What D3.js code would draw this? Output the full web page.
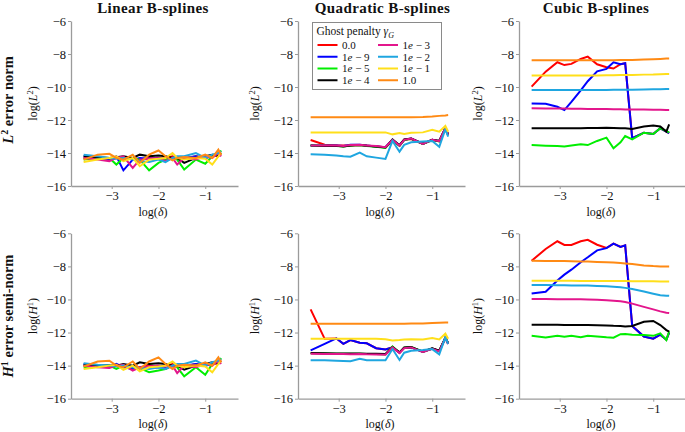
<!DOCTYPE html>
<html>
<head>
<meta charset="utf-8">
<script src="https://cdn.jsdelivr.net/npm/d3@7"></script>
<style>
	body { margin: 0; background: #fff; }
	svg { display: block; }
	text { font-family: 'Liberation Serif', 'DejaVu Serif', serif; fill: #111; }
</style>
</head>
<body>
<svg id="chart"></svg>
<script>
// log(delta) sample points shared by every panel
const xValues = [-3.6, -3.3, -3.05, -2.9, -2.75, -2.55, -2.4, -2.2, -2.0, -1.85, -1.7, -1.6, -1.45, -1.2, -1.0, -0.85, -0.72, -0.66];

// ghost penalty values, in legend / drawing order
const penaltyLabels = ['0.0', '1e-9', '1e-5', '1e-4', '1e-3', '1e-2', '1e-1', '1.0'];
const penaltyColors = ['#ff0000', '#0000ff', '#00ee00', '#000000', '#e3168c', '#1fa6e0', '#ffdf1a', '#ff8a14'];

const columnTitles = ['Linear B-splines', 'Quadratic B-splines', 'Cubic B-splines'];
const rowTitles = [['L', '2', ' error norm'], ['H', '1', ' error semi-norm']];
const yLabels = [['L', '2'], ['H', '1']];
const xTicks = [-3, -2, -1];
const yTicks = [-16, -14, -12, -10, -8, -6];

// log(L2) error, one row per penalty
const linearL2 = [
	[-14.3, -14.35, -14.4, -14.3, -14.25, -14.35, -14.4, -14.3, -14.35, -14.3, -14.2, -14.3, -14.35, -14.2, -14.3, -14.15, -14.2, -14.0],
	[-14.2, -14.3, -14.4, -14.2, -15.05, -14.4, -14.3, -14.35, -14.3, -14.4, -14.3, -14.25, -14.3, -14.2, -14.3, -14.2, -14.1, -14.0],
	[-14.4, -14.3, -14.3, -14.7, -14.3, -14.3, -14.4, -15.05, -14.6, -14.4, -14.3, -14.4, -15.0, -14.4, -14.65, -14.2, -14.1, -13.85],
	[-14.2, -14.25, -14.3, -14.25, -14.2, -14.3, -14.1, -14.2, -14.15, -14.2, -14.3, -14.3, -14.6, -14.3, -14.2, -14.1, -14.15, -14.0],
	[-14.3, -14.4, -14.5, -14.3, -14.2, -14.9, -14.4, -14.35, -14.3, -14.5, -14.3, -14.7, -14.3, -14.4, -14.2, -14.3, -14.0, -14.2],
	[-14.1, -14.2, -14.3, -14.35, -14.3, -14.4, -14.5, -14.55, -14.4, -14.55, -14.3, -14.2, -14.2, -14.0, -14.3, -14.1, -14.0, -13.9],
	[-14.55, -14.4, -14.3, -14.2, -14.5, -14.3, -14.8, -14.4, -14.35, -14.3, -14.0, -14.3, -14.4, -14.3, -14.35, -14.7, -14.2, -14.0],
	[-14.4, -14.1, -14.05, -14.3, -14.4, -14.1, -14.6, -14.1, -13.85, -14.2, -14.45, -14.3, -14.25, -14.3, -14.1, -14.3, -13.8, -14.1]
];
const quadraticL2 = [
	[-13.21, -13.5, -13.55, -13.55, -13.55, -13.52, -13.55, -13.6, -13.65, -13.22, -13.55, -13.2, -13.15, -13.45, -13.2, -13.3, -12.5, -12.9],
	[-13.55, -13.55, -13.55, -13.58, -13.5, -13.5, -13.55, -13.6, -13.65, -13.2, -13.55, -13.2, -13.12, -13.45, -13.2, -13.28, -12.5, -12.9],
	[-13.55, -13.56, -13.57, -13.6, -13.55, -13.52, -13.57, -13.62, -13.7, -13.22, -13.56, -13.22, -13.14, -13.45, -13.22, -13.3, -12.52, -12.92],
	[-13.55, -13.57, -13.56, -13.6, -13.54, -13.52, -13.56, -13.6, -13.67, -13.18, -13.53, -13.18, -13.12, -13.43, -13.2, -13.26, -12.5, -12.88],
	[-13.55, -13.55, -13.55, -13.58, -13.52, -13.5, -13.55, -13.58, -13.65, -13.2, -13.55, -13.2, -13.12, -13.45, -13.2, -13.28, -12.5, -12.9],
	[-14.08, -14.1, -14.15, -14.2, -14.22, -13.98, -14.2, -14.28, -14.36, -13.27, -13.92, -13.51, -13.35, -13.31, -13.27, -13.62, -12.55, -13.01],
	[-12.75, -12.75, -12.75, -12.75, -12.75, -12.75, -12.75, -12.75, -12.75, -12.87, -12.79, -12.85, -12.77, -12.75, -12.6, -12.71, -12.36, -12.71],
	[-11.84, -11.84, -11.84, -11.84, -11.84, -11.84, -11.84, -11.84, -11.84, -11.84, -11.84, -11.84, -11.84, -11.82, -11.79, -11.75, -11.72, -11.7]
];
const cubicL2 = [
	[-9.98, -9.07, -8.5, -8.67, -8.6, -8.3, -8.16, -8.62, -8.8, -8.88, -8.62, -8.56, -13.1, -12.77, -12.85, -12.5, -12.7, -12.8],
	[-11.0, -11.02, -11.2, -11.4, -10.9, -10.2, -9.65, -9.05, -8.9, -8.5, -8.62, -8.56, -13.1, -12.77, -12.85, -12.5, -12.7, -12.8],
	[-13.52, -13.56, -13.58, -13.61, -13.55, -13.47, -13.52, -13.27, -13.07, -13.71, -13.35, -12.97, -13.17, -12.77, -12.85, -12.5, -12.67, -12.75],
	[-12.5, -12.5, -12.5, -12.5, -12.5, -12.5, -12.49, -12.48, -12.47, -12.48, -12.5, -12.5, -12.55, -12.39, -12.33, -12.39, -12.7, -12.26],
	[-11.29, -11.3, -11.3, -11.31, -11.32, -11.32, -11.33, -11.33, -11.34, -11.35, -11.35, -11.36, -11.36, -11.37, -11.38, -11.38, -11.39, -11.39],
	[-10.18, -10.18, -10.18, -10.18, -10.18, -10.18, -10.18, -10.18, -10.18, -10.17, -10.17, -10.17, -10.16, -10.15, -10.14, -10.13, -10.12, -10.12],
	[-9.3, -9.3, -9.3, -9.3, -9.3, -9.3, -9.3, -9.3, -9.29, -9.29, -9.28, -9.28, -9.27, -9.25, -9.24, -9.22, -9.21, -9.21],
	[-8.38, -8.38, -8.38, -8.38, -8.38, -8.38, -8.38, -8.38, -8.38, -8.38, -8.37, -8.37, -8.36, -8.34, -8.32, -8.3, -8.28, -8.28]
];

// log(H1) error, one row per penalty
const linearH1 = [
	[-14.0, -14.05, -14.1, -14.0, -13.95, -14.05, -14.1, -14.0, -14.05, -14.0, -13.9, -14.0, -14.05, -13.9, -14.0, -13.85, -13.9, -13.7],
	[-13.9, -14.0, -14.1, -13.9, -14.1, -14.2, -14.1, -14.15, -14.1, -14.15, -14.0, -13.95, -14.0, -13.9, -14.0, -13.9, -13.8, -13.7],
	[-14.1, -14.0, -14.0, -14.2, -14.0, -14.1, -14.15, -14.4, -14.3, -14.2, -14.0, -14.1, -14.65, -14.1, -14.55, -13.9, -13.8, -13.55],
	[-13.95, -14.0, -14.0, -14.0, -13.9, -14.0, -13.8, -13.9, -13.85, -13.9, -14.0, -14.0, -14.25, -14.0, -13.9, -13.8, -13.85, -13.7],
	[-14.0, -14.1, -14.15, -14.0, -13.95, -14.3, -14.1, -14.05, -14.0, -14.2, -14.0, -14.45, -14.0, -14.1, -13.9, -14.0, -13.7, -13.9],
	[-13.85, -13.95, -14.0, -14.05, -14.0, -14.1, -14.15, -14.2, -14.1, -14.2, -14.0, -13.9, -13.9, -13.7, -14.0, -13.8, -13.7, -13.6],
	[-14.2, -14.1, -14.0, -13.95, -14.25, -14.0, -14.35, -14.1, -14.05, -14.0, -13.75, -14.0, -14.1, -14.0, -14.05, -14.4, -13.9, -13.7],
	[-14.05, -13.75, -13.7, -14.0, -14.1, -13.75, -14.2, -13.75, -13.5, -13.9, -14.2, -14.0, -13.95, -14.0, -13.8, -14.0, -13.5, -13.8]
];
const quadraticH1 = [
	[-10.6, -12.38, -12.36, -12.68, -12.46, -12.62, -12.65, -12.95, -13.02, -12.9, -13.22, -12.93, -12.9, -13.17, -12.97, -13.12, -12.32, -12.68],
	[-13.08, -12.68, -12.35, -12.68, -12.46, -12.62, -12.65, -12.95, -13.02, -12.9, -13.22, -12.93, -12.9, -13.17, -12.97, -13.12, -12.32, -12.68],
	[-13.25, -13.26, -13.28, -13.28, -13.28, -13.28, -13.3, -13.3, -13.32, -12.84, -13.22, -12.92, -12.88, -13.16, -12.97, -13.12, -12.32, -12.67],
	[-13.24, -13.25, -13.27, -13.27, -13.27, -13.27, -13.28, -13.28, -13.3, -12.88, -13.2, -12.9, -12.88, -13.15, -12.96, -13.1, -12.32, -12.65],
	[-13.28, -13.29, -13.3, -13.3, -13.31, -13.3, -13.32, -13.33, -13.34, -12.9, -13.24, -12.94, -12.9, -13.18, -12.98, -13.14, -12.33, -12.69],
	[-13.68, -13.68, -13.7, -13.72, -13.74, -13.58, -13.68, -13.68, -13.68, -13.0, -13.66, -13.22, -13.1, -13.06, -13.0, -13.32, -12.29, -12.69],
	[-12.38, -12.38, -12.38, -12.38, -12.38, -12.38, -12.38, -12.38, -12.4, -12.48, -12.45, -12.42, -12.4, -12.42, -12.33, -12.42, -12.07, -12.38],
	[-11.47, -11.47, -11.47, -11.47, -11.47, -11.47, -11.47, -11.47, -11.47, -11.47, -11.47, -11.47, -11.46, -11.45, -11.43, -11.41, -11.39, -11.39]
];
const cubicH1 = [
	[-7.66, -6.95, -6.48, -6.7, -6.7, -6.48, -6.39, -6.69, -6.89, -6.63, -6.83, -6.73, -11.6, -12.24, -12.37, -12.13, -12.43, -12.0],
	[-9.64, -9.53, -8.85, -8.5, -8.2, -7.75, -7.45, -7.03, -6.9, -6.63, -6.83, -6.73, -11.6, -12.24, -12.37, -12.13, -12.43, -12.0],
	[-12.2, -12.3, -12.19, -12.25, -12.19, -12.29, -12.19, -12.24, -12.29, -12.31, -12.1, -12.09, -12.13, -12.15, -12.2, -12.05, -12.45, -11.92],
	[-11.53, -11.53, -11.53, -11.54, -11.54, -11.55, -11.55, -11.56, -11.57, -11.59, -11.6, -11.63, -11.6, -11.35, -11.3, -11.55, -11.85, -11.95],
	[-9.97, -9.97, -9.98, -9.98, -9.99, -9.99, -10.0, -10.02, -10.05, -10.08, -10.11, -10.15, -10.25, -10.45, -10.6, -10.72, -10.8, -10.82],
	[-9.13, -9.13, -9.14, -9.14, -9.15, -9.15, -9.16, -9.18, -9.2, -9.23, -9.26, -9.3, -9.37, -9.52, -9.65, -9.75, -9.77, -9.78],
	[-8.87, -8.87, -8.87, -8.87, -8.87, -8.88, -8.88, -8.88, -8.88, -8.89, -8.89, -8.89, -8.9, -8.9, -8.9, -8.91, -8.91, -8.91],
	[-7.66, -7.67, -7.68, -7.68, -7.69, -7.7, -7.71, -7.73, -7.75, -7.77, -7.8, -7.82, -7.86, -7.94, -7.98, -8.0, -8.0, -8.0]
];

const panelData = [[linearL2, quadraticL2, cubicL2], [linearH1, quadraticH1, cubicH1]];

const width = 685;
const height = 432;
const svg = d3.select('#chart').attr('width', width).attr('height', height);

const axisGrey = '#9b9b9b';
const panelLefts = [71, 298, 519];
const panelWidth = 167;
const rowRanges = [[186, 21], [398.7, 233.3]];
const rowLabelY = [100, 316];
const yLabelX = [37, 259, 482];
const titleX = [153, 382.5, 596];

columnTitles.forEach((t, c) => {
	svg.append('text')
		.attr('x', titleX[c]).attr('y', 12.5)
		.attr('text-anchor', 'middle')
		.style('font-size', '15px').style('font-weight', 'bold')
		.style('letter-spacing', '0.4px')
		.text(t);
});

rowRanges.forEach((range, r) => {
	const rowLabel = svg.append('text')
		.attr('transform', `translate(13,${rowLabelY[r]}) rotate(-90)`)
		.attr('text-anchor', 'middle')
		.style('font-size', '14.5px').style('font-weight', 'bold');
	rowLabel.append('tspan').style('font-style', 'italic').text(rowTitles[r][0]);
	rowLabel.append('tspan').attr('dy', -5).style('font-size', '10px').text(rowTitles[r][1]);
	rowLabel.append('tspan').attr('dy', 5).text(rowTitles[r][2]);
});

const line = (x, y) => d3.line()
	.x((d, i) => x(xValues[i]))
	.y(d => y(d));

panelData.forEach((rowData, r) => {
	rowData.forEach((series, c) => {
		const left = panelLefts[c];
		const x = d3.scaleLinear().domain([-3.87, -0.3]).range([left, left + panelWidth]);
		const y = d3.scaleLinear().domain([-16, -6]).range(rowRanges[r]);
		const g = svg.append('g');

		const yAxis = g.append('g')
			.attr('transform', `translate(${left},0)`)
			.call(d3.axisLeft(y).tickValues(yTicks).tickFormat(d3.format('d'))
				.tickSize(3).tickSizeOuter(0).tickPadding(2));
		const xAxis = g.append('g')
			.attr('transform', `translate(0,${rowRanges[r][0]})`)
			.call(d3.axisBottom(x).tickValues(xTicks).tickFormat(d3.format('d'))
				.tickSize(3).tickSizeOuter(0).tickPadding(2));
		[yAxis, xAxis].forEach(a => {
			a.select('.domain').attr('stroke', axisGrey).attr('stroke-width', 1.3);
			a.selectAll('.tick line').attr('stroke', axisGrey).attr('stroke-width', 1);
			a.selectAll('.tick text')
				.style('font-family', "'Liberation Serif', serif")
				.style('font-size', '12.5px').attr('fill', '#111');
		});

		// axis titles
		const yl = g.append('text')
			.attr('transform', `translate(${yLabelX[c]},${(rowRanges[r][0] + rowRanges[r][1]) / 2}) rotate(-90)`)
			.attr('text-anchor', 'middle')
			.style('font-size', '12px');
		yl.append('tspan').text('log(');
		yl.append('tspan').style('font-style', 'italic').text(yLabels[r][0]);
		yl.append('tspan').attr('dy', -4).style('font-size', '8.5px').text(yLabels[r][1]);
		yl.append('tspan').attr('dy', 4).text(')');

		const xl = g.append('text')
			.attr('x', left + 82).attr('y', rowRanges[r][0] + 29.5)
			.attr('text-anchor', 'middle')
			.style('font-size', '12px');
		xl.append('tspan').text('log(');
		xl.append('tspan').style('font-style', 'italic').text('δ');
		xl.append('tspan').text(')');

		const lineGen = line(x, y);
		g.append('g').selectAll('path')
			.data(series)
			.join('path')
			.attr('d', lineGen)
			.attr('fill', 'none')
			.attr('stroke', (d, i) => penaltyColors[i])
			.attr('stroke-width', 2);
	});
});

// legend inside the quadratic L2 panel
const legend = svg.append('g');
legend.append('rect')
	.attr('x', 312.5).attr('y', 22.5).attr('width', 129).attr('height', 67)
	.attr('fill', '#fff').attr('stroke', '#8a8a8a').attr('stroke-width', 1);
const lt = legend.append('text').attr('x', 316.5).attr('y', 35).style('font-size', '11.5px');
lt.append('tspan').text('Ghost penalty ');
lt.append('tspan').style('font-style', 'italic').text('γ');
lt.append('tspan').attr('dy', 3).style('font-size', '8px').style('font-style', 'italic').text('G');

penaltyLabels.forEach((label, i) => {
	const col = Math.floor(i / 4);
	const row = i % 4;
	const lx = 317.5 + col * 60.5;
	const ly = 45 + row * 11.75;
	legend.append('line')
		.attr('x1', lx).attr('x2', lx + 20).attr('y1', ly).attr('y2', ly)
		.attr('stroke', penaltyColors[i]).attr('stroke-width', 2);
	const t = legend.append('text').attr('x', lx + 24.5).attr('y', ly + 3.8).style('font-size', '11px');
	const parts = label.split('e');
	if (parts.length === 2) {
		t.append('tspan').text(parts[0]);
		t.append('tspan').style('font-style', 'italic').text('e');
		t.append('tspan').text(' − ' + parts[1].replace('-', ''));
	} else {
		t.text(label);
	}
});
</script>
</body>
</html>
